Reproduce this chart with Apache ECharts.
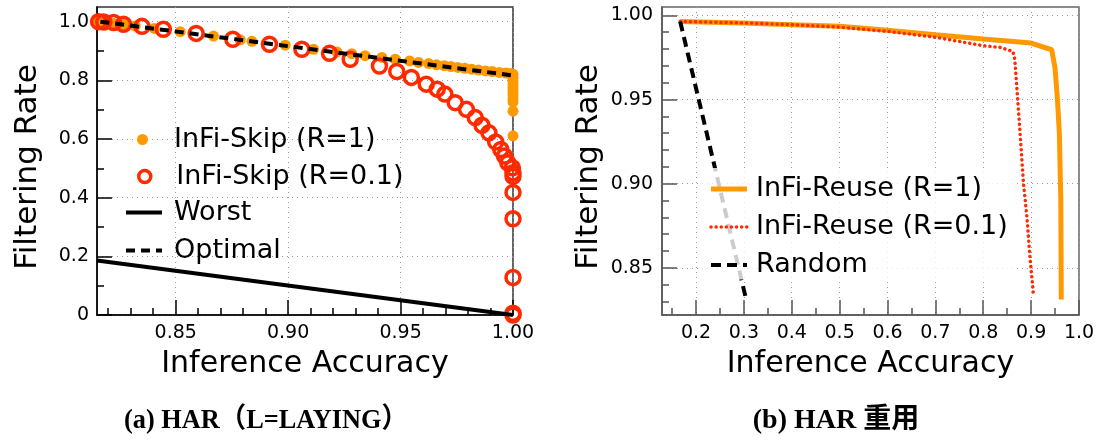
<!DOCTYPE html>
<html>
<head>
<meta charset="utf-8">
<script src="https://cdn.jsdelivr.net/npm/echarts@6/dist/echarts.min.js"></script>
<style>
  html, body { margin: 0; padding: 0; background: #fff; }
  #chart { width: 1099px; height: 444px; }
</style>
</head>
<body>
<div id="chart"></div>
<script>
// ---- (a) InFi-Skip on HAR, positive label LAYING ----
const skipR1Acc = [0.8155, 0.8185, 0.8225, 0.8270, 0.8320, 0.8405, 0.8520, 0.8668, 0.8787, 0.8839,
  0.8987, 0.9113, 0.9217, 0.9283, 0.9342, 0.9417, 0.9476, 0.9540, 0.9580, 0.9625,
  0.9660, 0.9694, 0.9724, 0.9755, 0.9786, 0.9816, 0.9847, 0.9878, 0.9908, 0.9939,
  0.9969, 0.9990, 1.0000, 1.0000, 1.0000, 1.0000, 1.0000, 1.0000, 1.0000, 1.0000,
  1.0000, 1.0000, 1.0000];
const skipR1Rate = [1.000, 0.998, 0.994, 0.990, 0.985, 0.977, 0.966, 0.951, 0.938, 0.933,
  0.920, 0.906, 0.897, 0.891, 0.884, 0.878, 0.872, 0.866, 0.861, 0.857,
  0.853, 0.850, 0.847, 0.844, 0.841, 0.838, 0.835, 0.832, 0.830, 0.827,
  0.825, 0.823, 0.821, 0.810, 0.798, 0.786, 0.774, 0.762, 0.750, 0.738,
  0.726, 0.695, 0.611];

const skipR01Acc = [0.8157, 0.8180, 0.8224, 0.8268, 0.8350, 0.8445, 0.8591, 0.8754, 0.8917, 0.9061,
  0.9184, 0.9276, 0.9406, 0.9483, 0.9548, 0.9614, 0.9663, 0.9697, 0.9743, 0.9793,
  0.9832, 0.9862, 0.9893, 0.9923, 0.9946, 0.9962, 0.9977, 0.9997, 1.0, 1.0,
  1.0, 1.0, 1.0, 1.0, 1.0];
const skipR01Rate = [1.000, 0.999, 0.997, 0.991, 0.984, 0.974, 0.960, 0.940, 0.923, 0.906,
  0.892, 0.872, 0.849, 0.830, 0.810, 0.787, 0.770, 0.753, 0.724, 0.701,
  0.673, 0.647, 0.621, 0.590, 0.564, 0.542, 0.519, 0.502, 0.485, 0.473,
  0.418, 0.328, 0.128, 0.006, 0.000];

const worstAcc = [0.815, 1.0];
const worstRate = [0.1855, 0.0];
const optimalAcc = [0.8165, 1.0];
const optimalRate = [1.0, 0.8165];

// ---- (b) InFi-Reuse on HAR ----
const reuseR1Acc = [0.167, 0.300, 0.400, 0.500, 0.600, 0.700, 0.800, 0.900, 0.943, 0.950,
  0.955, 0.959, 0.962, 0.963];
const reuseR1Rate = [0.9964, 0.9955, 0.9945, 0.9935, 0.9912, 0.9885, 0.9860, 0.9836, 0.9796, 0.9687,
  0.9500, 0.9300, 0.8906, 0.8312];

const reuseR01Acc = [0.167, 0.300, 0.400, 0.500, 0.600, 0.700, 0.750, 0.800, 0.835, 0.862,
  0.866, 0.870, 0.877, 0.884, 0.891, 0.898, 0.905];
const reuseR01Rate = [0.9964, 0.9955, 0.9945, 0.9930, 0.9905, 0.9870, 0.9845, 0.9820, 0.9810, 0.9786,
  0.9737, 0.9578, 0.9300, 0.9005, 0.8810, 0.8550, 0.8340];

const randomAcc = [0.167, 0.305];
const randomRate = [0.9964, 0.831];

// ---- ticks ----
const skipXTicks = [0.85, 0.90, 0.95, 1.00];
const skipXMinor = [0.82, 0.83, 0.84, 0.86, 0.87, 0.88, 0.89, 0.91, 0.92, 0.93, 0.94, 0.96, 0.97, 0.98, 0.99];
const skipYTicks = [0, 0.2, 0.4, 0.6, 0.8, 1.0];
const skipYMinor = [0.1, 0.3, 0.5, 0.7, 0.9];
const reuseXTicks = [0.2, 0.3, 0.4, 0.5, 0.6, 0.7, 0.8, 0.9, 1.0];
const reuseXMinor = [0.15, 0.25, 0.35, 0.45, 0.55, 0.65, 0.75, 0.85, 0.95];
const reuseYTicks = [0.85, 0.90, 0.95, 1.00];
const reuseYMinor = [0.83, 0.84, 0.86, 0.87, 0.88, 0.89, 0.91, 0.92, 0.93, 0.94, 0.96, 0.97, 0.98, 0.99];

const FONT = 'DejaVu Sans';
const ORANGE = '#ff9900';
const RED = '#ff2a00';
const zip = (xs, ys) => xs.map((x, i) => [x, ys[i]]);

function mainAxis(o) {
  return {
    type: 'value', gridIndex: o.grid, min: o.min, max: o.max, position: o.pos,
    name: o.name, nameLocation: 'middle', nameGap: o.nameGap,
    nameTextStyle: { fontFamily: FONT, fontSize: o.nameSize, color: '#000', padding: o.namePad || 0 },
    axisLine: { show: true, onZero: false, lineStyle: { color: o.color, width: 1.5 } },
    axisTick: { show: true, inside: true, length: 15, customValues: o.ticks, lineStyle: { color: o.color, width: 1.5 } },
    axisLabel: { show: true, customValues: o.ticks, formatter: o.fmt, margin: o.margin,
      fontFamily: FONT, fontSize: 19, color: '#000' },
    splitLine: { show: true, lineStyle: { color: '#999', width: 1, type: [1, 4] } }
  };
}
function minorAxis(o) {
  return {
    type: 'value', gridIndex: o.grid, min: o.min, max: o.max, position: o.pos,
    axisLine: { show: false },
    axisTick: { show: true, inside: true, length: 7, customValues: o.ticks, lineStyle: { color: o.color, width: 1.5 } },
    axisLabel: { show: false },
    splitLine: { show: false }
  };
}

const hideMarker = { color: 'rgba(0,0,0,0)', borderWidth: 0, opacity: 0 };
function legendText(pad) {
  return { fontFamily: FONT, fontSize: 27, lineHeight: 27, color: '#000', padding: [0, 0, 0, pad] };
}
function legendRow(item, left, top, w, h, pad) {
  return { data: [item], left: left, top: top, orient: 'vertical', padding: 0,
    itemWidth: w, itemHeight: h, selectedMode: false, textStyle: legendText(pad) };
}

const chart = echarts.init(document.getElementById('chart'), null, { renderer: 'canvas' });
chart.setOption({
  animation: false,
  backgroundColor: '#fff',
  grid: [
    { left: 97, top: 7, width: 416, height: 308, show: true, borderColor: '#333', borderWidth: 1.5, outerBoundsMode: 'none' },
    { left: 662, top: 7, width: 417, height: 308, show: true, borderColor: '#666', borderWidth: 1.5, outerBoundsMode: 'none' }
  ],
  xAxis: [
    mainAxis({ grid: 0, min: 0.815, max: 1.0, pos: 'bottom', name: 'Inference Accuracy', nameGap: 34, nameSize: 30,
      color: '#000', ticks: skipXTicks, fmt: v => v.toFixed(2), margin: 9 }),
    mainAxis({ grid: 1, min: 0.129, max: 1.0, pos: 'bottom', name: 'Inference Accuracy', nameGap: 34, nameSize: 30,
      color: '#555', ticks: reuseXTicks, fmt: v => v.toFixed(1), margin: 9 }),
    minorAxis({ grid: 0, min: 0.815, max: 1.0, pos: 'bottom', color: '#000', ticks: skipXMinor }),
    minorAxis({ grid: 1, min: 0.129, max: 1.0, pos: 'bottom', color: '#555', ticks: reuseXMinor })
  ],
  yAxis: [
    mainAxis({ grid: 0, min: 0, max: 1.05, pos: 'left', name: 'Filtering Rate', nameGap: 54, nameSize: 31,
      namePad: [0, 12, 0, 0], color: '#000', ticks: skipYTicks, fmt: v => (v === 0 ? '0' : v.toFixed(1)), margin: 8 }),
    mainAxis({ grid: 1, min: 0.822, max: 1.005, pos: 'left', name: 'Filtering Rate', nameGap: 58, nameSize: 31,
      namePad: [0, 12, 0, 0], color: '#555', ticks: reuseYTicks, fmt: v => v.toFixed(2), margin: 9 }),
    minorAxis({ grid: 0, min: 0, max: 1.05, pos: 'left', color: '#000', ticks: skipYMinor }),
    minorAxis({ grid: 1, min: 0.822, max: 1.005, pos: 'left', color: '#555', ticks: reuseYMinor })
  ],
  legend: [
    legendRow({ name: 'InFi-Skip (R=1)' }, 137, 126, 33, 11, 10),
    legendRow({ name: 'InFi-Skip (R=0.1)', itemStyle: { color: 'rgba(0,0,0,0)', borderColor: RED, borderWidth: 3.5 } }, 137, 163, 33, 12, 10),
    legendRow({ name: 'Worst', lineStyle: { width: 4, color: '#000' }, itemStyle: hideMarker }, 124, 199, 36, 14, 7),
    legendRow({ name: 'Optimal', lineStyle: { width: 4, color: '#000', type: [9, 6] }, itemStyle: hideMarker }, 124, 237, 36, 14, 7),
    {
      data: [
        { name: 'InFi-Reuse (R=1)', lineStyle: { width: 5, color: ORANGE }, itemStyle: hideMarker },
        { name: 'InFi-Reuse (R=0.1)', lineStyle: { width: 3.5, color: RED, type: [0.1, 5], cap: 'round' }, itemStyle: hideMarker },
        { name: 'Random', lineStyle: { width: 4, color: '#000', type: [10, 6] }, itemStyle: hideMarker }
      ],
      left: 700, top: 168, orient: 'vertical', padding: [7.5, 8.5, 1, 8.5], itemGap: 11,
      itemWidth: 36, itemHeight: 14, selectedMode: false,
      backgroundColor: 'rgba(255,255,255,0.8)', textStyle: legendText(4)
    }
  ],
  series: [
    { name: 'InFi-Skip (R=1)', type: 'scatter', xAxisIndex: 0, yAxisIndex: 0,
      data: zip(skipR1Acc, skipR1Rate), symbol: 'circle', symbolSize: 11,
      itemStyle: { color: ORANGE, opacity: 1 } },
    { name: 'InFi-Skip (R=0.1)', type: 'scatter', xAxisIndex: 0, yAxisIndex: 0,
      data: zip(skipR01Acc, skipR01Rate), symbol: 'circle', symbolSize: 14,
      itemStyle: { color: 'rgba(0,0,0,0)', borderColor: RED, borderWidth: 3.5, opacity: 1 } },
    { name: 'Worst', type: 'line', xAxisIndex: 0, yAxisIndex: 0,
      data: zip(worstAcc, worstRate), symbol: 'none', itemStyle: { color: '#000' },
      lineStyle: { color: '#000', width: 4 } },
    { name: 'Optimal', type: 'line', xAxisIndex: 0, yAxisIndex: 0,
      data: zip(optimalAcc, optimalRate), symbol: 'none', itemStyle: { color: '#000' },
      lineStyle: { color: '#000', width: 4, type: [9, 6] } },
    { name: 'InFi-Reuse (R=1)', type: 'line', xAxisIndex: 1, yAxisIndex: 1,
      data: zip(reuseR1Acc, reuseR1Rate), symbol: 'none', itemStyle: { color: ORANGE },
      lineStyle: { color: ORANGE, width: 5 } },
    { name: 'InFi-Reuse (R=0.1)', type: 'line', xAxisIndex: 1, yAxisIndex: 1,
      data: zip(reuseR01Acc, reuseR01Rate), symbol: 'none', itemStyle: { color: RED },
      lineStyle: { color: RED, width: 3.5, type: [0.1, 5], cap: 'round' } },
    { name: 'Random', type: 'line', xAxisIndex: 1, yAxisIndex: 1,
      data: zip(randomAcc, randomRate), symbol: 'none', itemStyle: { color: '#000' },
      lineStyle: { color: '#000', width: 4, type: [10, 6] } }
  ],
  graphic: [
    { type: 'text', x: 266, y: 421, scaleX: 0.94, style: { text: '(a) HAR（L=LAYING）', align: 'center', verticalAlign: 'middle',
      font: 'bold 28px "Liberation Serif", "Noto Sans CJK SC", serif', fill: '#000' } },
    { type: 'text', x: 836, y: 421, style: { text: '(b) HAR 重用', align: 'center', verticalAlign: 'middle',
      font: 'bold 28px "Liberation Serif", "Noto Sans CJK SC", serif', fill: '#000' } }
  ]
});
</script>
</body>
</html>
